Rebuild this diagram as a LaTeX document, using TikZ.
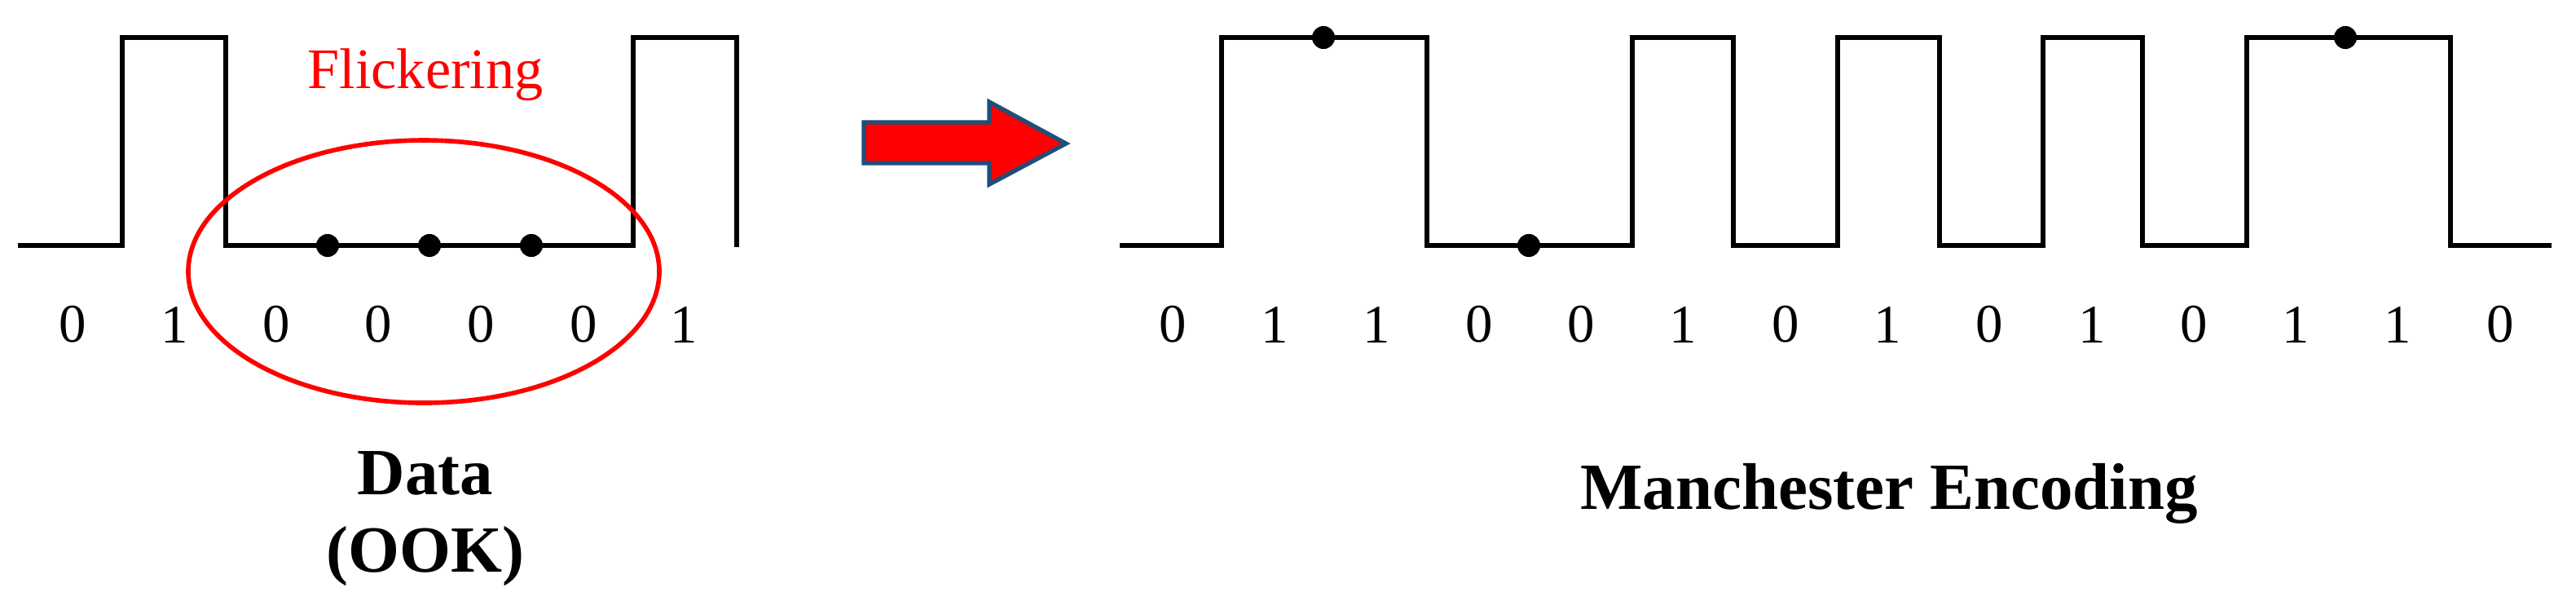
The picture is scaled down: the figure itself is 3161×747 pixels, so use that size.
\documentclass[tikz,border=0pt]{standalone}
\usepackage{fontspec}
\setmainfont{Liberation Serif}
\begin{document}
\begin{tikzpicture}[x=0.01cm,y=-0.01cm,
  sig/.style={line width=1.8pt,line join=miter},
  dotm/.style={circle,fill=black,inner sep=0pt,minimum width=6pt,minimum height=8pt},
  bit/.style={font=\fontsize{19}{19}\selectfont},
  lbl/.style={font=\bfseries\fontsize{23}{27}\selectfont,align=center}]
\useasboundingbox (0,0) rectangle (3161,747);
% left signal
\draw[sig] (22,301) -- (150,301) -- (150,46) -- (277,46) -- (277,301) -- (777,301) -- (777,46) -- (904,46) -- (904,303);
\foreach \x/\n in {402/a,527/b,652/c} \node[dotm] (d\n) at (\x,301) {};
\foreach \x/\t [count=\i] in {89/0,214/1,339/0,464/0,590/0,716/0,839/1} \node[bit] (l\i) at (\x,398) {\t};
\draw[red,line width=1.6pt] (520,333) ellipse [x radius=289, y radius=161];
\node[red,font=\fontsize{20}{20}\selectfont] (flick) at (522,92) {Flickering};
\node[lbl] (data) at (522,636) {Data\\(OOK)};
% arrow
\draw[fill=red,draw={rgb,255:red,31;green,78;blue,121},line width=1.5pt]
  (1060,150) -- (1214,150) -- (1214,125) -- (1308,176) -- (1214,226) -- (1214,200) -- (1060,200) -- cycle;
% right signal
\draw[sig] (1374,301) -- (1499,301) -- (1499,46) -- (1751,46) -- (1751,301) -- (2003,301) -- (2003,46) -- (2127,46) -- (2127,301) -- (2255,301) -- (2255,46) -- (2380,46) -- (2380,301) -- (2507,301) -- (2507,46) -- (2629,46) -- (2629,301) -- (2757,301) -- (2757,46) -- (3007,46) -- (3007,301) -- (3131,301);
\node[dotm] (m1) at (1624,46) {};
\node[dotm] (m2) at (1876,301) {};
\node[dotm] (m3) at (2878,46) {};
\foreach \t [count=\i from 0] in {0,1,1,0,0,1,0,1,0,1,0,1,1,0} \node[bit] (r\i) at (1439+125.3*\i,398) {\t};
\node[lbl] (manc) at (2318,605) {Manchester Encoding};
\end{tikzpicture}
\end{document}
